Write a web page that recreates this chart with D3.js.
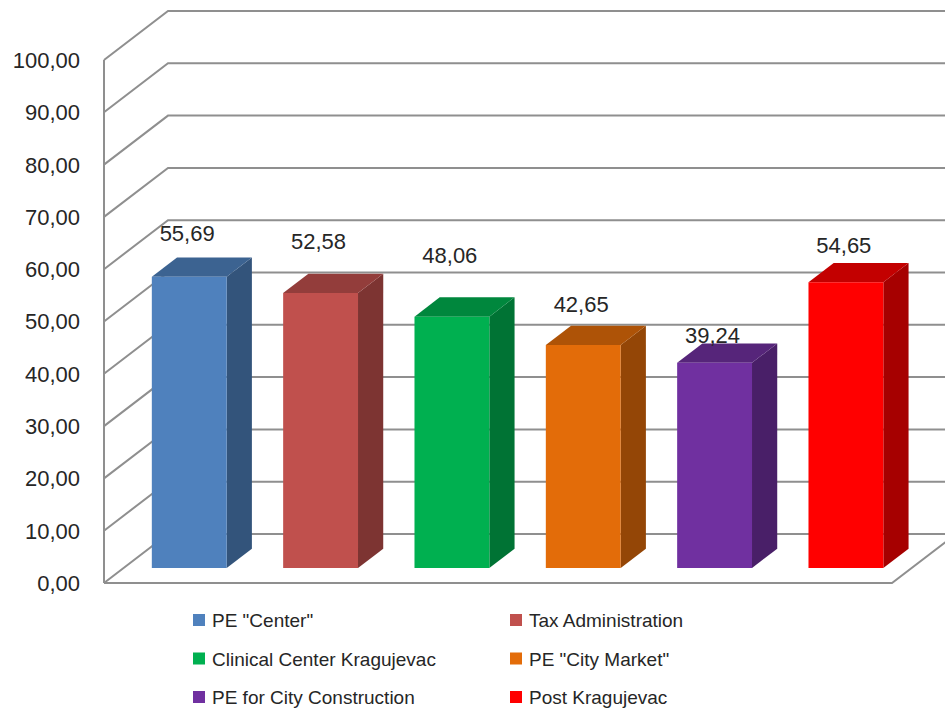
<!DOCTYPE html>
<html>
<head>
<meta charset="utf-8">
<script src="https://cdn.jsdelivr.net/npm/d3@7"></script>
<style>
    body { margin: 0; background: #fff; }
    text { font-family: "Liberation Sans", Arial, sans-serif; fill: #262626; }
</style>
</head>
<body>
<div id="canvas"></div>
<script>
// data
const categories = ["PE \"Center\"", "Tax Administration", "Clinical Center Kragujevac",
    "PE \"City Market\"", "PE for City Construction", "Post Kragujevac"];
const values = [55.69, 52.58, 48.06, 42.65, 39.24, 54.65];
const colors = ["#4F81BD", "#C0504D", "#00B050", "#E36C09", "#7030A0", "#FF0000"];
const yTicks = [0, 10, 20, 30, 40, 50, 60, 70, 80, 90, 100];
// labels in the source sit a little unevenly above their bars
const labelLift = [16, 25, 34, 14, 0, 10];

const W = 945, H = 709;
const fmt = v => d3.format(".2f")(v).replace(".", ",");

// 3d box: depth shifts points right and up
const DX = 64, DY = 49;
const tFront = 0.306, tBack = 0.70;

const svg = d3.select("#canvas")
    .append("svg")
    .attr("width", W)
    .attr("height", H);

const x = d3.scaleBand()
    .domain(categories)
    .range([104, 892])
    .paddingInner(0.43)
    .paddingOuter(0.215);

const y = d3.scaleLinear()
    .domain([0, 100])
    .range([583, 60]);

// walls: gridlines run along the left wall then across the back wall
const grid = svg.append("g")
    .attr("fill", "none")
    .attr("stroke", "#8f8f8f")
    .attr("stroke-width", 2);

grid.selectAll("path.gl")
    .data(yTicks)
    .join("path")
    .attr("class", "gl")
    .attr("d", d => `M${104},${y(d)} L${104 + DX},${y(d) - DY} L${W + 5},${y(d) - DY}`);

// front vertical edge of left wall
grid.append("line")
    .attr("x1", 104).attr("x2", 104)
    .attr("y1", y(0)).attr("y2", y(100));

// floor front edge
grid.append("path")
    .attr("d", `M${104},${y(0)} L${892},${y(0)} L${892 + DX},${y(0) - DY}`);

// y tick labels
svg.append("g")
    .selectAll("text")
    .data(yTicks)
    .join("text")
    .attr("x", 80)
    .attr("y", d => y(d))
    .attr("dy", "0.36em")
    .attr("text-anchor", "end")
    .style("font-size", "22px")
    .text(d => fmt(d));

// bars
const bars = svg.append("g")
    .selectAll("g")
    .data(values.map((v, i) => ({cat: categories[i], v: v, c: colors[i], i: i})))
    .join("g");

function pt(px, v, t) {
    return [px + DX * t, y(v) - DY * t];
}
function poly(pts) {
    return "M" + pts.map(p => p.join(",")).join("L") + "Z";
}

bars.each(function(d) {
    const g = d3.select(this);
    const x0 = x(d.cat), x1 = x(d.cat) + x.bandwidth();
    const base = d3.color(d.c);
    // side face
    g.append("path")
        .attr("d", poly([pt(x1, 0, tFront), pt(x1, 0, tBack), pt(x1, d.v, tBack), pt(x1, d.v, tFront)]))
        .attr("fill", base.darker(1.2));
    // top face
    g.append("path")
        .attr("d", poly([pt(x0, d.v, tFront), pt(x1, d.v, tFront), pt(x1, d.v, tBack), pt(x0, d.v, tBack)]))
        .attr("fill", base.darker(0.75));
    // front face
    g.append("path")
        .attr("d", poly([pt(x0, 0, tFront), pt(x1, 0, tFront), pt(x1, d.v, tFront), pt(x0, d.v, tFront)]))
        .attr("fill", base);
    // value label
    g.append("text")
        .attr("x", (x0 + x1) / 2 + 17.5)
        .attr("y", pt(x0, d.v, tBack)[1] - labelLift[d.i])
        .attr("text-anchor", "middle")
        .style("font-size", "22px")
        .text(fmt(d.v));
});

// legend, two columns
const legend = svg.append("g")
    .selectAll("g")
    .data(categories)
    .join("g")
    .attr("transform", (d, i) => `translate(${i % 2 === 0 ? 193 : 510},${620 + Math.floor(i / 2) * 38.5})`);

legend.append("rect")
    .attr("x", 0).attr("y", -6)
    .attr("width", 12).attr("height", 12)
    .attr("fill", (d, i) => colors[i]);

legend.append("text")
    .attr("x", 19)
    .attr("y", 7)
    .style("font-size", "19px")
    .text(d => d);
</script>
</body>
</html>
